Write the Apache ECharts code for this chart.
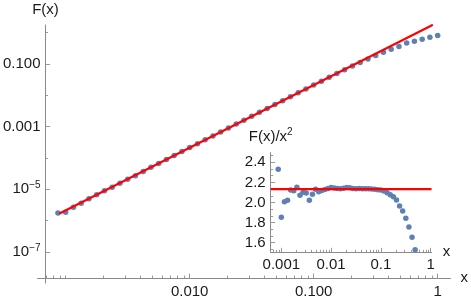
<!DOCTYPE html>
<html><head><meta charset="utf-8">
<script src="https://cdn.jsdelivr.net/npm/echarts@6/dist/echarts.min.js"></script>
<style>html,body{margin:0;padding:0;background:#fff}#c{width:471px;height:301px}</style>
</head><body><div id="c"></div>
<script>
// ---- data ----
const xValues = [0.00086596, 0.001, 0.0011548, 0.0013335, 0.0015399, 0.0017783, 0.0020535, 0.0023714, 0.0027384, 0.0031623,
  0.0036517, 0.004217, 0.0048697, 0.0056234, 0.0064938, 0.0074989, 0.0086596, 0.01, 0.011548, 0.013335,
  0.015399, 0.017783, 0.020535, 0.023714, 0.027384, 0.031623, 0.036517, 0.04217, 0.048697, 0.056234,
  0.064938, 0.074989, 0.086596, 0.1, 0.11548, 0.13335, 0.15399, 0.17783, 0.20535, 0.23714,
  0.27384, 0.31623, 0.36517, 0.4217, 0.48697, 0.56234, 0.64938, 0.74989, 0.86596, 1];
const fValues = [1.7472e-6, 1.853e-6, 2.6777e-6, 3.5957e-6, 5.0369e-6, 6.6946e-6, 9.0708e-6, 1.16517e-5, 1.57552e-5, 2.095e-5,
  2.69634e-5, 3.70242e-5, 5.05345e-5, 6.66297e-5, 8.94e-5, 1.19778e-4, 1.60476e-4, 2.15e-4, 2.86036e-4, 3.80556e-4,
  5.07005e-4, 6.77681e-4, 9.06655e-4, 1.207344e-3, 1.604765e-3, 2.138e-3, 2.85369e-3, 3.80201e-3, 5.06768e-3, 6.75467e-3,
  9.0033e-3, 1.198909e-2, 1.595016e-2, 2.124e-2, 2.819e-2, 3.7309e-2, 4.9278e-2, 6.508e-2, 8.5394e-2, 0.1105,
  0.143604, 0.1843, 0.234163, 0.294131, 0.362824, 0.4617, 0.52713, 0.6152, 0.71614, 0.81];
const ratioValues = [2.330, 1.853, 2.008, 2.022, 2.124, 2.117, 2.151, 2.072, 2.101, 2.095,
  2.022, 2.082, 2.131, 2.107, 2.12, 2.13, 2.14, 2.15, 2.145, 2.14,
  2.138, 2.143, 2.15, 2.147, 2.14, 2.138, 2.14, 2.138, 2.137, 2.136,
  2.135, 2.132, 2.127, 2.124, 2.114, 2.098, 2.078, 2.058, 2.025, 1.965,
  1.915, 1.843, 1.756, 1.654, 1.530, 1.46, 1.25, 1.094, 0.955, 0.81];
// fit line F(x) = 2.134 x^2
const fitLineX = [0.0009, 0.9];
const fitLineF = [1.72854e-6, 1.72854];
const insetLineX = [0.000612, 1.04];
const insetLineR = [2.134, 2.134];
// tick labels
const mainXTickValues = [0.01, 0.1, 1];
const mainXTickLabels = ['0.010', '0.100', '1'];
const mainYTickValues = [1e-7, 1e-5, 1e-3, 0.1];
const mainYTickLabels = ['{b|10}{s|\u22127}', '{b|10}{s|\u22125}', '{b|0.001}', '{b|0.100}'];
const insetXTickValues = [0.001, 0.01, 0.1, 1];
const insetXTickLabels = ['0.001', '0.01', '0.1', '1'];
const insetYTickValues = [1.6, 1.8, 2.0, 2.2, 2.4];
const insetYTickLabels = ['1.6', '1.8', '2.0', '2.2', '2.4'];

// ---- minor tick positions ----
function logMinor(fromExp, toExp, lo, hi) {
  const out = [];
  for (let e = fromExp; e <= toExp; e++) for (let m = 1; m <= 9; m++) {
    const v = m * Math.pow(10, e);
    if (v >= lo && v <= hi) out.push(v);
  }
  return out;
}
const FONT = '"Liberation Sans", Arial, sans-serif';
const AXIS = '#8a8a8a', TICK = '#9a9a9a', TXT = '#1a1a1a';
const BLUE = '#5E81B5', RED = '#FF0000';

const mainXMin = 5.929e-4, mainXMax = 1.269, mainYMin = 1.03e-8, mainYMax = 1.747;
const inXMin = 6.12e-4, inXMax = 1.047, inYMin = 1.5045, inYMax = 2.4955;

const mainXMinor = logMinor(-4, 0, 0.00065, 1.2).filter(v => !mainXTickValues.some(t => Math.abs(t - v) / t < 1e-6));
const mainYMinor = [1e-8, 1e-6, 1e-4, 1e-2, 1].filter(v => v >= mainYMin && v <= mainYMax);
const inXMinor = logMinor(-4, 0, inXMin, inXMax).filter(v => !insetXTickValues.some(t => Math.abs(t - v) / t < 1e-6));
const inYMinor = [];
for (let i = -2; i <= 20; i++) { const v = 1.4 + i * 0.2 / 3; if (i % 3 !== 0 && v >= inYMin && v <= inYMax) inYMinor.push(v); }

function pickLog(vals, texts) {
  return v => { for (let i = 0; i < vals.length; i++) if (Math.abs(Math.log10(v) - Math.log10(vals[i])) < 1e-6) return texts[i]; return ''; };
}
function pickLin(vals, texts) {
  return v => { for (let i = 0; i < vals.length; i++) if (Math.abs(v - vals[i]) < 1e-6) return texts[i]; return ''; };
}
const lblStyle = { fontSize: 15, color: TXT, fontFamily: FONT };
const rich = { b: { fontSize: 15, color: TXT, fontFamily: FONT, lineHeight: 18 }, s: { fontSize: 10, color: TXT, fontFamily: FONT, verticalAlign: 'top', lineHeight: 11 } };

function minorAxis(base, ticks, len) {
  return Object.assign({}, base, {
    name: '', axisLine: { show: false },
    axisTick: { show: true, inside: true, length: len, customValues: ticks, lineStyle: { color: TICK, width: 1 } },
    axisLabel: { show: false }, splitLine: { show: false }
  });
}

const xMainBase = { gridIndex: 0, type: 'log', min: mainXMin, max: mainXMax, position: 'bottom', offset: -5 };
const yMainBase = { gridIndex: 0, type: 'log', min: mainYMin, max: mainYMax, position: 'left', offset: -8 };
const xInBase = { gridIndex: 1, type: 'log', min: inXMin, max: inXMax, position: 'bottom' };
const yInBase = { gridIndex: 1, type: 'value', min: inYMin, max: inYMax, position: 'left' };

const option = {
  animation: false,
  backgroundColor: '#ffffff',
  grid: [
    { left: 35, top: 25, width: 418, height: 258 },
    { left: 270.7, top: 152.7, width: 161, height: 99.6 }
  ],
  xAxis: [
    Object.assign({}, xMainBase, {
      name: 'x', nameLocation: 'end', nameGap: 10,
      nameTextStyle: Object.assign({}, lblStyle, { padding: [4, 0, 0, 0] }),
      axisLine: { show: true, lineStyle: { color: AXIS, width: 1 } },
      axisTick: { show: true, inside: true, length: 4.5, customValues: mainXTickValues, lineStyle: { color: TICK } },
      axisLabel: Object.assign({}, lblStyle, { customValues: mainXTickValues, formatter: pickLog(mainXTickValues, mainXTickLabels), margin: 6 }),
      splitLine: { show: false }
    }),
    minorAxis(xMainBase, mainXMinor, 2.5),
    Object.assign({}, xInBase, {
      name: 'x', nameLocation: 'end', nameGap: 11,
      nameTextStyle: Object.assign({}, lblStyle, { padding: [2, 0, 0, 0] }),
      axisLine: { show: true, lineStyle: { color: AXIS, width: 1 } },
      axisTick: { show: true, inside: true, length: 4.5, customValues: insetXTickValues, lineStyle: { color: TICK } },
      axisLabel: Object.assign({}, lblStyle, { customValues: insetXTickValues, formatter: pickLog(insetXTickValues, insetXTickLabels), margin: 5 }),
      splitLine: { show: false }
    }),
    minorAxis(xInBase, inXMinor, 2.5)
  ],
  yAxis: [
    Object.assign({}, yMainBase, {
      name: 'F(x)', nameLocation: 'end', nameGap: 8,
      nameTextStyle: Object.assign({}, lblStyle),
      axisLine: { show: true, lineStyle: { color: AXIS, width: 1 } },
      axisTick: { show: true, inside: true, length: 4.5, customValues: mainYTickValues, lineStyle: { color: TICK } },
      axisLabel: { customValues: mainYTickValues, formatter: pickLog(mainYTickValues, mainYTickLabels), margin: 5, rich: rich },
      splitLine: { show: false }
    }),
    minorAxis(yMainBase, mainYMinor, 2.5),
    Object.assign({}, yInBase, {
      name: '{b|F(x)/x}{s|2}', nameLocation: 'end', nameGap: 7,
      nameTextStyle: { rich: rich, align: 'center' },
      axisLine: { show: true, lineStyle: { color: AXIS, width: 1 } },
      axisTick: { show: true, inside: true, length: 4.5, customValues: insetYTickValues, lineStyle: { color: TICK } },
      axisLabel: Object.assign({}, lblStyle, { customValues: insetYTickValues, formatter: pickLin(insetYTickValues, insetYTickLabels), margin: 5 }),
      splitLine: { show: false }
    }),
    minorAxis(yInBase, inYMinor, 2.5)
  ],
  series: [
    { type: 'scatter', xAxisIndex: 0, yAxisIndex: 0, symbolSize: 5.5, itemStyle: { color: BLUE, opacity: 1 },
      data: xValues.map((x, i) => [x, fValues[i]]), z: 2 },
    { type: 'line', xAxisIndex: 0, yAxisIndex: 0, symbol: 'none', lineStyle: { color: RED, width: 2.2, cap: 'round' },
      data: fitLineX.map((x, i) => [x, fitLineF[i]]), z: 3 },
    { type: 'scatter', xAxisIndex: 2, yAxisIndex: 2, symbolSize: 5.5, itemStyle: { color: BLUE, opacity: 1 },
      data: xValues.map((x, i) => [x, ratioValues[i]]), clip: true, z: 4 },
    { type: 'line', xAxisIndex: 2, yAxisIndex: 2, symbol: 'none', lineStyle: { color: RED, width: 2.2 },
      data: insetLineX.map((x, i) => [x, insetLineR[i]]), z: 5 }
  ]
};
const chart = echarts.init(document.getElementById('c'), null, { renderer: 'canvas' });
chart.setOption(option);
</script>
</body></html>
